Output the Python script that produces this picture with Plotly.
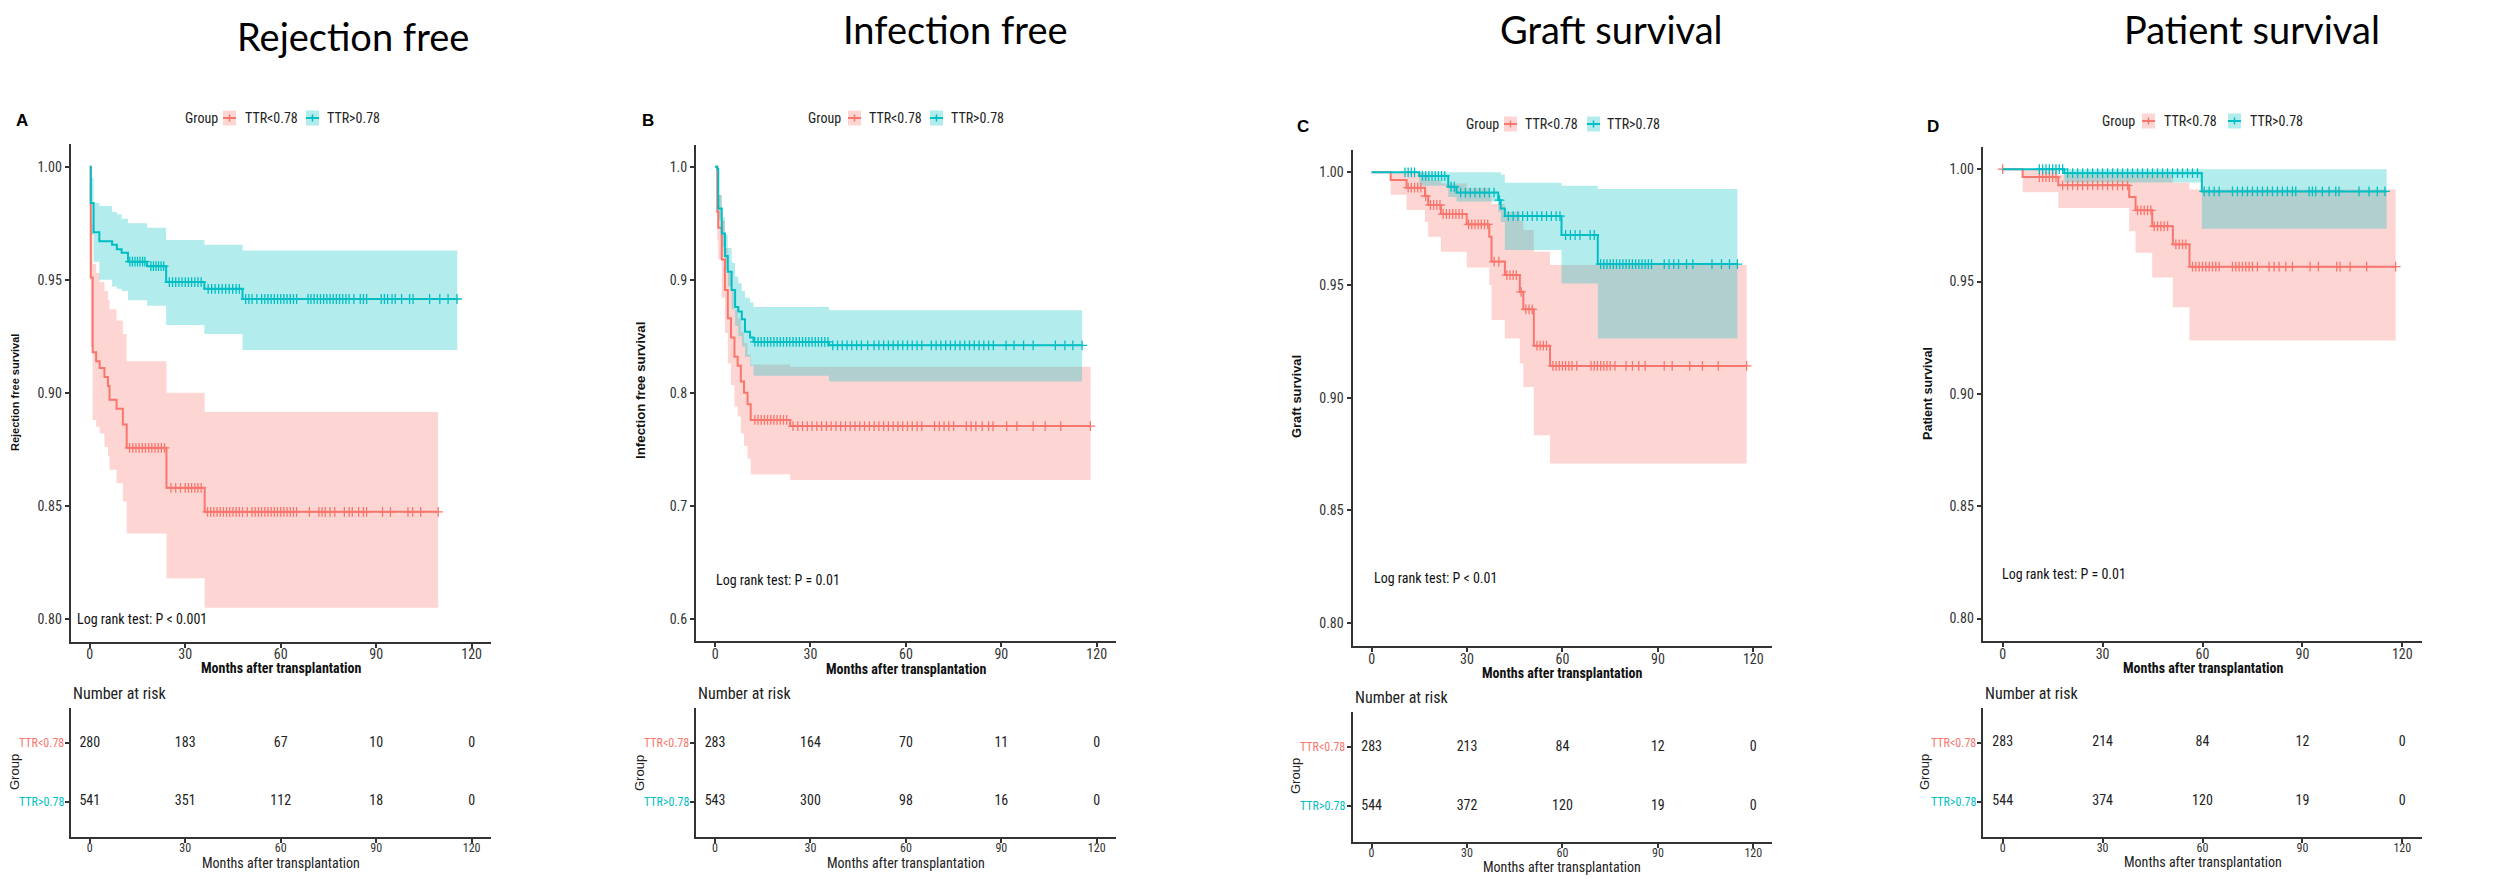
import numpy as np
import plotly.graph_objects as go

W, H = 2509, 879
RED, TEAL = "#F8766D", "#00BFC4"
RED_BAND, TEAL_BAND = "rgba(248,118,109,0.3)", "rgba(0,191,196,0.3)"
AXC = "#333333"
NARROW = "Liberation Sans Narrow, Arial Narrow, Roboto Condensed, DejaVu Sans Condensed, Liberation Sans, Arial, sans-serif"
SANS = "Liberation Sans, Arial, sans-serif"
TITLE_FONT = "Lato, Open Sans, sans-serif"

# ---------------- data ----------------
month_ticks = [0, 30, 60, 90, 120]
group_names = ["TTR<0.78", "TTR>0.78"]
panel_titles = ["Rejection free", "Infection free", "Graft survival", "Patient survival"]
panel_letters = ["A", "B", "C", "D"]
y_titles = ["Rejection free survival", "Infection free survival", "Graft survival", "Patient survival"]
pval_text = ["Log rank test: P < 0.001", "Log rank test: P = 0.01",
             "Log rank test: P < 0.01", "Log rank test: P = 0.01"]
ytick_a = [0.80, 0.85, 0.90, 0.95, 1.00]
ytick_b = [0.6, 0.7, 0.8, 0.9, 1.0]

# A: rejection free, TTR<0.78
a_lo_t = [0, 0.3, 0.9, 2.0, 3.1, 4.6, 5.7, 6.2, 8.4, 10.4, 11.6, 24.1, 36.1]
a_lo_s = [1.0, 0.951, 0.918, 0.914, 0.911, 0.907, 0.903, 0.897, 0.893, 0.886, 0.8757, 0.858, 0.8474]
a_lo_up = [1.0, 0.975, 0.957, 0.953, 0.949, 0.945, 0.941, 0.937, 0.932, 0.926, 0.914, 0.900, 0.8915]
a_lo_low = [1.0, 0.920, 0.888, 0.885, 0.882, 0.876, 0.872, 0.866, 0.860, 0.852, 0.8378, 0.818, 0.805]
a_lo_end = 109.5
a_lo_cens = [12.5, 13.5, 14.5, 15.5, 16.5, 17.5, 18.5, 19.5, 20.5, 21.5, 22.5, 23.5, 25.5, 27.0,
             28.5, 30.0, 31.0, 32.0, 33.0, 34.0, 35.0, 37.0, 38.0, 39.0, 40.0, 41.0, 42.0, 43.0,
             44.0, 45.0, 46.0, 47.0, 48.0, 49.5, 51.0, 52.0, 53.0, 54.0, 55.0, 56.0, 57.0, 58.0,
             59.0, 60.0, 61.0, 62.0, 63.0, 64.0, 65.0, 69.0, 72.0, 73.0, 74.0, 75.5, 77.0, 80.0,
             81.5, 82.5, 84.5, 86.0, 87.0, 92.0, 94.5, 100.0, 101.5, 104.0, 109.5]
# A: rejection free, TTR>0.78
a_hi_t = [0, 0.3, 1.2, 3.0, 7.0, 8.5, 10.0, 12.0, 18.0, 24.0, 36.0, 48.0]
a_hi_s = [1.0, 0.984, 0.971, 0.967, 0.9655, 0.9635, 0.962, 0.958, 0.956, 0.949, 0.946, 0.9415]
a_hi_up = [1.0, 0.995, 0.984, 0.9826, 0.980, 0.979, 0.977, 0.975, 0.973, 0.9676, 0.9655, 0.963]
a_hi_low = [1.0, 0.970, 0.958, 0.950, 0.947, 0.946, 0.945, 0.941, 0.9385, 0.930, 0.926, 0.919]
a_hi_end = 115.5
a_hi_cens = [12.6, 13.4, 14.2, 15.0, 15.8, 16.6, 17.3, 19.2, 20.0, 20.8, 21.6, 22.4, 23.2, 25.0,
             26.0, 27.0, 28.0, 29.0, 30.0, 31.0, 32.0, 33.0, 34.0, 35.0, 37.2, 38.3, 39.4, 40.5,
             41.6, 42.7, 43.8, 44.9, 46.0, 47.0, 49.0, 50.0, 51.0, 52.5, 54.0, 55.0, 56.0, 57.0,
             58.0, 59.0, 60.0, 61.0, 62.0, 63.0, 64.0, 65.0, 68.6, 69.5, 70.5, 71.5, 72.5, 73.5,
             74.5, 75.5, 76.5, 77.5, 78.5, 79.5, 80.5, 81.5, 83.0, 85.0, 86.0, 87.0, 91.6, 92.6,
             93.6, 95.0, 96.0, 98.0, 100.5, 101.6, 106.8, 110.0, 112.6, 115.4]

# B: infection free, TTR<0.78
b_lo_t = [0, 0.7, 1.0, 2.1, 3.1, 4.0, 5.0, 6.1, 7.1, 8.1, 9.1, 10.2, 11.2, 23.6]
b_lo_s = [1.0, 0.960, 0.946, 0.918, 0.891, 0.866, 0.849, 0.832, 0.824, 0.810, 0.800, 0.790, 0.776, 0.7706]
b_lo_up = [1.0, 0.985, 0.975, 0.952, 0.928, 0.906, 0.890, 0.874, 0.866, 0.854, 0.844, 0.834, 0.825, 0.823]
b_lo_low = [1.0, 0.935, 0.918, 0.884, 0.853, 0.826, 0.807, 0.788, 0.779, 0.764, 0.753, 0.742, 0.728, 0.723]
b_lo_end = 118.1
b_lo_cens = [12.5, 13.5, 14.5, 15.5, 16.5, 17.5, 18.5, 19.5, 20.5, 21.5, 22.5, 24.5, 26.0, 27.5,
             29.0, 30.5, 32.0, 33.5, 35.0, 36.5, 38.0, 39.5, 41.0, 42.5, 44.0, 45.5, 47.0, 48.5,
             50.0, 51.5, 53.0, 54.5, 56.0, 57.5, 59.0, 60.5, 62.0, 63.5, 65.0, 69.0, 70.5, 72.0,
             73.5, 75.0, 79.0, 80.5, 82.0, 84.0, 86.0, 87.4, 91.7, 94.9, 100.0, 103.8, 108.7, 118.0]
# B: infection free, TTR>0.78
b_hi_t = [0, 0.7, 1.0, 2.1, 3.1, 4.0, 5.2, 6.3, 7.3, 8.4, 9.4, 11.0, 12.1, 35.8]
b_hi_s = [1.0, 0.998, 0.963, 0.941, 0.921, 0.907, 0.891, 0.876, 0.872, 0.865, 0.854, 0.849, 0.845, 0.842]
b_hi_up = [1.0, 1.0, 0.975, 0.955, 0.940, 0.928, 0.915, 0.903, 0.897, 0.890, 0.884, 0.880, 0.876, 0.873]
b_hi_low = [1.0, 0.994, 0.953, 0.929, 0.909, 0.894, 0.874, 0.859, 0.850, 0.841, 0.832, 0.824, 0.815, 0.810]
b_hi_end = 115.4
b_hi_cens = [12.5, 13.5, 14.5, 15.5, 16.5, 17.5, 18.5, 19.5, 20.5, 21.5, 22.5, 23.5, 24.5, 25.5,
             26.5, 27.5, 28.5, 29.5, 30.5, 31.5, 32.5, 33.5, 34.5, 35.5, 37.0, 38.5, 40.0, 41.5,
             43.0, 44.5, 46.0, 48.0, 50.0, 51.5, 53.0, 54.5, 56.0, 57.5, 59.0, 60.5, 62.0, 63.5,
             65.0, 68.0, 69.5, 71.0, 72.5, 74.0, 75.5, 77.0, 78.5, 80.0, 81.5, 83.0, 84.5, 86.0,
             87.5, 91.5, 94.0, 97.0, 100.0, 107.0, 110.0, 112.5, 115.4]

# C: graft survival, TTR<0.78
c_lo_t = [0, 6.0, 11.0, 16.8, 17.8, 21.8, 29.9, 37.0, 37.7, 41.9, 46.6, 47.7, 51.0, 56.1]
c_lo_s = [1.0, 0.9966, 0.9932, 0.9895, 0.9855, 0.9815, 0.9769, 0.9714, 0.9604, 0.9544, 0.9470, 0.9392, 0.9231, 0.9141]
c_lo_up = [1.0, 1.0, 1.0, 0.999, 0.9965, 0.995, 0.993, 0.990, 0.986, 0.9825, 0.9785, 0.9744, 0.9648, 0.9589]
c_lo_low = [1.0, 0.990, 0.9833, 0.978, 0.9714, 0.9648, 0.9578, 0.950, 0.9345, 0.9263, 0.9152, 0.9048, 0.8834, 0.8708]
c_lo_end = 117.9
c_lo_cens = [11.5, 12.5, 13.5, 14.5, 15.5, 17.0, 18.5, 19.5, 20.5, 21.5, 22.5, 23.5, 24.5, 25.5,
             26.5, 27.5, 28.5, 30.5, 31.5, 32.5, 33.5, 34.5, 35.5, 36.5, 38.5, 40.0, 42.5, 43.5,
             44.5, 45.5, 47.0, 48.5, 49.5, 50.5, 52.0, 53.0, 54.0, 55.0, 57.0, 58.0, 59.0, 60.0,
             61.0, 62.0, 63.0, 64.5, 69.0, 70.0, 71.0, 72.0, 73.0, 74.0, 75.0, 76.5, 80.0, 82.0,
             84.0, 86.0, 92.0, 94.5, 100.0, 104.0, 109.0, 117.9]
# C: graft survival, TTR>0.78
c_hi_t = [0, 15.0, 24.1, 26.7, 39.8, 40.6, 41.9, 59.7, 71.1]
c_hi_s = [1.0, 0.9984, 0.9936, 0.991, 0.9877, 0.984, 0.9806, 0.9722, 0.9593]
c_hi_up = [1.0, 1.0, 1.0, 1.0, 1.0, 0.999, 0.9954, 0.9940, 0.9926]
c_hi_low = [1.0, 0.994, 0.989, 0.987, 0.9825, 0.978, 0.9655, 0.9507, 0.9263]
c_hi_end = 115.0
c_hi_cens = [10.5, 11.5, 12.5, 13.5, 16.0, 17.0, 18.0, 19.0, 20.0, 21.0, 22.0, 23.0, 25.0, 26.0,
             28.0, 29.5, 31.0, 32.5, 34.0, 35.5, 37.0, 38.5, 40.2, 43.0, 44.5, 46.0, 47.5, 49.0,
             50.5, 52.0, 53.5, 55.0, 56.5, 58.0, 59.2, 61.0, 62.5, 64.0, 65.5, 68.7, 70.0, 72.0,
             73.0, 74.0, 75.0, 76.0, 77.0, 78.0, 79.0, 80.0, 81.0, 82.0, 83.0, 84.0, 85.0, 86.0,
             87.0, 88.0, 92.0, 93.5, 95.0, 96.5, 99.0, 101.0, 107.0, 110.0, 112.5, 115.0]

# D: patient survival, TTR<0.78
d_lo_t = [0, 6.0, 16.7, 38.0, 39.9, 44.9, 51.1, 56.1]
d_lo_s = [1.0, 0.9965, 0.9928, 0.9876, 0.9817, 0.9746, 0.9665, 0.9566]
d_lo_up = [1.0, 1.0, 0.9975, 0.9975, 0.9975, 0.9975, 0.994, 0.9909]
d_lo_low = [1.0, 0.9897, 0.9827, 0.9724, 0.9628, 0.9518, 0.9385, 0.9237]
d_lo_end = 118.0
d_lo_cens = [0.0, 11.0, 12.0, 13.0, 14.0, 15.0, 16.0, 18.0, 19.5, 21.0, 22.5, 24.0, 25.5, 27.0,
             28.5, 30.0, 31.5, 33.0, 34.5, 36.0, 37.5, 40.5, 41.5, 42.5, 43.5, 44.5, 45.5, 46.5,
             47.5, 48.5, 49.5, 52.0, 53.0, 54.0, 55.0, 57.0, 58.0, 59.0, 60.0, 61.0, 62.0, 63.0,
             64.0, 65.0, 69.0, 70.0, 71.0, 72.0, 73.0, 74.0, 75.0, 76.5, 80.0, 81.5, 83.0, 85.0,
             87.0, 92.3, 94.8, 100.3, 101.3, 104.3, 109.3, 118.0]
# D: patient survival, TTR>0.78
d_hi_t = [0, 18.5, 59.8]
d_hi_s = [1.0, 0.9982, 0.9901]
d_hi_up = [1.0, 1.0, 1.0]
d_hi_low = [1.0, 0.9941, 0.9735]
d_hi_end = 115.3
d_hi_cens = [11.0, 12.0, 13.0, 14.0, 15.0, 16.0, 17.0, 18.0, 19.5, 21.0, 22.5, 24.0, 25.5, 27.0,
             28.5, 30.0, 31.5, 33.0, 34.5, 36.0, 37.5, 39.0, 40.5, 42.0, 43.5, 45.0, 46.5, 48.0,
             49.5, 51.0, 52.5, 54.0, 55.5, 57.0, 58.5, 60.5, 62.0, 63.5, 65.0, 69.0, 70.5, 72.0,
             73.5, 75.0, 76.5, 78.0, 79.5, 81.0, 82.5, 84.0, 85.5, 87.0, 88.0, 92.0, 93.0, 94.0,
             96.0, 98.0, 100.0, 101.0, 107.0, 110.0, 112.5, 114.8]

# numbers at risk at 0, 30, 60, 90, 120 months
risk_a_lo = [280, 183, 67, 10, 0]
risk_a_hi = [541, 351, 112, 18, 0]
risk_b_lo = [283, 164, 70, 11, 0]
risk_b_hi = [543, 300, 98, 16, 0]
risk_c_lo = [283, 213, 84, 12, 0]
risk_c_hi = [544, 372, 120, 19, 0]
risk_d_lo = [283, 214, 84, 12, 0]
risk_d_hi = [544, 374, 120, 19, 0]

curves = [
    [(a_lo_t, a_lo_s, a_lo_up, a_lo_low, a_lo_end, a_lo_cens),
     (a_hi_t, a_hi_s, a_hi_up, a_hi_low, a_hi_end, a_hi_cens)],
    [(b_lo_t, b_lo_s, b_lo_up, b_lo_low, b_lo_end, b_lo_cens),
     (b_hi_t, b_hi_s, b_hi_up, b_hi_low, b_hi_end, b_hi_cens)],
    [(c_lo_t, c_lo_s, c_lo_up, c_lo_low, c_lo_end, c_lo_cens),
     (c_hi_t, c_hi_s, c_hi_up, c_hi_low, c_hi_end, c_hi_cens)],
    [(d_lo_t, d_lo_s, d_lo_up, d_lo_low, d_lo_end, d_lo_cens),
     (d_hi_t, d_hi_s, d_hi_up, d_hi_low, d_hi_end, d_hi_cens)],
]
risks = [(risk_a_lo, risk_a_hi), (risk_b_lo, risk_b_hi), (risk_c_lo, risk_c_hi), (risk_d_lo, risk_d_hi)]
yticks = [ytick_a, ytick_b, ytick_a, ytick_a]
ytick_fmt = ["{:.2f}", "{:.1f}", "{:.2f}", "{:.2f}"]
pval_pos = [(-4.7, 0.80), (-0.3, 0.6345), (0.0, 0.82), (-0.8, 0.82)]

# ---------------- layout geometry (pixels) ----------------
geo = [
    dict(x0=70.7, x1=490.7, top=144.1, bot=641.6, yr=[0.79, 1.01], rtop=708, rbot=837,
         letter=(22, 121), title=(353, 36), leg_y=118, leg=(201, 223, 243, 306, 325),
         nar_y=693, xt_y=668, rxt_y=863, yt=(15, 393, 11), grp=(14, 772), rlab_x=66),
    dict(x0=696.0, x1=1115.8, top=145, bot=641, yr=[0.5805, 1.0192], rtop=708, rbot=837,
         letter=(648, 120), title=(955, 29), leg_y=118, leg=(825, 848, 867, 930, 949),
         nar_y=693, xt_y=669, rxt_y=863, yt=(640, 391, 13.3), grp=(639, 773), rlab_x=691),
    dict(x0=1352.5, x1=1772.4, top=150, bot=645.7, yr=[0.79, 1.0099], rtop=711.7, rbot=841.7,
         letter=(1303, 127), title=(1612, 29), leg_y=124, leg=(1482, 1504, 1523, 1587, 1605),
         nar_y=697, xt_y=673, rxt_y=867, yt=(1296, 397, 12.9), grp=(1295, 776), rlab_x=1347),
    dict(x0=1982.7, x1=2422.3, top=146.7, bot=641, yr=[0.79, 1.01], rtop=707.7, rbot=836.7,
         letter=(1933, 127), title=(2252, 29), leg_y=121, leg=(2118, 2142, 2162, 2228, 2248),
         nar_y=693, xt_y=668, rxt_y=862, yt=(1928, 394, 12.6), grp=(1924, 772), rlab_x=1978),
]


def px(x):
    return x / W


def py(y):
    return 1 - y / H


def step_path(t, v, end):
    xs, ys = [], []
    for i in range(len(t)):
        t1 = t[i + 1] if i + 1 < len(t) else end
        xs += [t[i], t1]
        ys += [v[i], v[i]]
    return xs, ys


def surv_at(t, s, times):
    idx = np.searchsorted(np.asarray(t), np.asarray(times), side="right") - 1
    return [s[i] for i in idx]


def label(text, x, y, size, family=NARROW, color="#222", xanchor="center", angle=0,
          xref="paper", yref="paper"):
    return dict(text=text, x=x, y=y, xref=xref, yref=yref, xanchor=xanchor, yanchor="middle",
                showarrow=False, textangle=angle, font=dict(family=family, size=size, color=color))


fig = go.Figure()
annotations, shapes = [], []
layout_axes = {}
colors = [RED, TEAL]
bands = [RED_BAND, TEAL_BAND]

for p in range(4):
    g = geo[p]
    mi, ri = 2 * p + 1, 2 * p + 2
    mx, my = f"x{mi}", f"y{mi}"
    rx, ry = f"x{ri}", f"y{ri}"

    # confidence bands
    for k in range(2):
        t, s, up, lo, end, cens = curves[p][k]
        ux, uy = step_path(t, up, end)
        lx, ly = step_path(t, lo, end)
        fig.add_trace(go.Scatter(x=ux + lx[::-1], y=uy + ly[::-1], mode="lines", fill="toself",
                                 fillcolor=bands[k], line=dict(width=0), hoverinfo="skip",
                                 showlegend=False, xaxis=mx, yaxis=my))
    # survival curves and censor marks
    for k in range(2):
        t, s, up, lo, end, cens = curves[p][k]
        sx, sy = step_path(t, s, end)
        fig.add_trace(go.Scatter(x=sx, y=sy, mode="lines", line=dict(color=colors[k], width=2),
                                 name=group_names[k], showlegend=False, xaxis=mx, yaxis=my))
        fig.add_trace(go.Scatter(x=cens, y=surv_at(t, s, cens), mode="markers",
                                 marker=dict(symbol="cross-thin", size=7,
                                             line=dict(color=colors[k], width=1.3)),
                                 showlegend=False, hoverinfo="skip", xaxis=mx, yaxis=my))
    # risk table numbers
    for k, row in zip(range(2), [2, 1]):
        fig.add_trace(go.Scatter(x=month_ticks, y=[row] * 5, mode="text",
                                 text=[str(v) for v in risks[p][k]],
                                 textfont=dict(family=NARROW, size=14, color="#222"),
                                 showlegend=False, hoverinfo="skip", xaxis=rx, yaxis=ry))

    common = dict(showline=True, linecolor=AXC, linewidth=2, ticks="outside", ticklen=4,
                  tickwidth=1.5, tickcolor=AXC, showgrid=False, zeroline=False,
                  automargin=False, fixedrange=True)
    layout_axes[f"xaxis{mi}"] = dict(common, domain=[px(g["x0"]), px(g["x1"])], range=[-6, 126],
                                     tickvals=month_ticks, anchor=my, ticklabelstandoff=-5,
                                     tickfont=dict(family=NARROW, size=14, color="#333"))
    layout_axes[f"yaxis{mi}"] = dict(common, domain=[py(g["bot"]), py(g["top"])], range=g["yr"],
                                     tickvals=yticks[p],
                                     ticktext=[ytick_fmt[p].format(v) for v in yticks[p]],
                                     anchor=mx, tickfont=dict(family=NARROW, size=14, color="#333"))
    layout_axes[f"xaxis{ri}"] = dict(common, domain=[px(g["x0"]), px(g["x1"])], range=[-6, 126],
                                     tickvals=month_ticks, anchor=ry, ticklabelstandoff=-5,
                                     tickfont=dict(family=NARROW, size=12, color="#333"))
    layout_axes[f"yaxis{ri}"] = dict(common, domain=[py(g["rbot"]), py(g["rtop"])], range=[0.4, 2.6],
                                     tickvals=[1, 2], showticklabels=False, anchor=rx)

    xc = (g["x0"] + g["x1"]) / 2
    # panel title and letter
    annotations.append(label(panel_titles[p], px(g["title"][0]), py(g["title"][1]), 38,
                             family=TITLE_FONT, color="#000"))
    annotations.append(label(f"<b>{panel_letters[p]}</b>", px(g["letter"][0]), py(g["letter"][1]), 17,
                             family=SANS, color="#000"))
    # axis titles
    annotations.append(label("<b>Months after transplantation</b>", px(xc), py(g["xt_y"]), 14, color="#111"))
    annotations.append(label("Months after transplantation", px(xc), py(g["rxt_y"]), 14))
    annotations.append(label(f"<b>{y_titles[p]}</b>", px(g["yt"][0]), py(g["yt"][1]), g["yt"][2],
                             family=SANS, color="#111", angle=-90))
    annotations.append(label("Group", px(g["grp"][0]), py(g["grp"][1]), 13, family=SANS, angle=-90))
    annotations.append(label("Number at risk", px(g["x0"]), py(g["nar_y"]), 16, xanchor="left"))
    # log-rank p value
    annotations.append(label(pval_text[p], pval_pos[p][0], pval_pos[p][1], 14, color="#111",
                             xanchor="left", xref=mx, yref=my))
    # risk table group labels
    for k, row in zip(range(2), [2, 1]):
        annotations.append(label(group_names[k].replace("<", "&lt;"), px(g["rlab_x"]), row, 12,
                                 color=colors[k], xanchor="right", yref=ry))

    # legend
    ly = g["leg_y"]
    gx, r1, t1, r2, t2 = g["leg"]
    annotations.append(label("Group", px(gx), py(ly), 14))
    for k, (rx0, tx0) in enumerate([(r1, t1), (r2, t2)]):
        shapes.append(dict(type="rect", xref="paper", yref="paper", x0=px(rx0), x1=px(rx0 + 13),
                           y0=py(ly + 7.5), y1=py(ly - 7.5), fillcolor=bands[k], line=dict(width=0)))
        shapes.append(dict(type="line", xref="paper", yref="paper", x0=px(rx0), x1=px(rx0 + 13),
                           y0=py(ly), y1=py(ly), line=dict(color=colors[k], width=2)))
        shapes.append(dict(type="line", xref="paper", yref="paper", x0=px(rx0 + 6.5), x1=px(rx0 + 6.5),
                           y0=py(ly - 3.5), y1=py(ly + 3.5), line=dict(color=colors[k], width=1.5)))
        annotations.append(label(group_names[k].replace("<", "&lt;"), px(tx0), py(ly), 14,
                                 xanchor="left"))

fig.update_layout(
    width=W, height=H, margin=dict(l=0, r=0, t=0, b=0),
    paper_bgcolor="white", plot_bgcolor="white", showlegend=False,
    annotations=annotations, shapes=shapes, **layout_axes,
)
fig.write_html("out.html", config={"displayModeBar": False})
